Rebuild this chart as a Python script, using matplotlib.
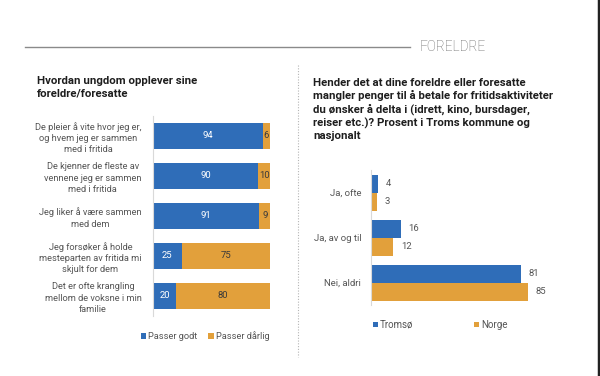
import matplotlib
matplotlib.use("Agg")
import matplotlib.pyplot as plt
from matplotlib.lines import Line2D

plt.rcParams['font.family'] = ['Roboto', 'DejaVu Sans']

# left chart data
statements = [
    "De pleier å vite hvor jeg er,\nog hvem jeg er sammen\nmed i fritida",
    "De kjenner de fleste av\nvennene jeg er sammen\nmed i fritida",
    "Jeg liker å være sammen\nmed dem",
    "Jeg forsøker å holde\nmesteparten av fritida mi\nskjult for dem",
    "Det er ofte krangling\nmellom de voksne i min\nfamilie",
]
passer_godt = [94, 90, 91, 25, 20]
passer_darlig = [6, 10, 9, 75, 80]

# right chart data
answers = ["Ja, ofte", "Ja, av og til", "Nei, aldri"]
tromso = [4, 16, 81]
norge = [3, 12, 85]

BLUE = '#2f6db8'
ORANGE = '#e2a03b'
W, H = 600, 376

fig = plt.figure(figsize=(6, 3.76), dpi=100)

def fx(px):
    return px / W

def fy(py):
    return 1 - py / H

# header
fig.add_artist(Line2D([fx(25), fx(410)], [fy(47), fy(47)], color='#8a8a8a', lw=1))
fig.text(fx(420), fy(47), "FORELDRE", ha='left', va='center', fontsize=9.8,
         color='#636363', fontweight='light')
fig.add_artist(Line2D([fx(598.5), fx(598.5)], [0, 1], color='#222222', lw=2.5))
fig.add_artist(Line2D([fx(298), fx(298)], [fy(65), fy(357)], color='#b5b5b5',
                      lw=0.8, linestyle=(0, (1, 1.5))))

# left chart
fig.text(fx(37), fy(76.5), "Hvordan ungdom opplever sine\nforeldre/foresatte",
         ha='left', va='top', fontsize=8.2, fontweight='bold', color='#1e1e1e',
         linespacing=1.22)

ax1 = fig.add_axes([fx(152.7), fy(316), fx(117.3), 200 / H])
ys = list(range(len(statements)))
b1 = ax1.barh(ys, passer_godt, height=0.65, color=BLUE, label='Passer godt')
b2 = ax1.barh(ys, passer_darlig, left=passer_godt, height=0.65, color=ORANGE,
              label='Passer dårlig')
for i in ys:
    ax1.text(passer_godt[i] / 2, i, str(passer_godt[i]), ha='center', va='center',
             fontsize=6.8, color='white')
    ax1.text(passer_godt[i] + passer_darlig[i] / 2, i, str(passer_darlig[i]),
             ha='center', va='center', fontsize=6.8, color='#3a3a3a')
ax1.set_xlim(0, 100)
ax1.set_ylim(4.5, -0.5)
ax1.set_yticks(ys)
ax1.set_yticklabels(statements, fontsize=6.7, color='#555555',
                    multialignment='center', linespacing=1.3)
ax1.tick_params(axis='y', length=0, pad=8)
ax1.set_xticks([])
for s in ['top', 'right', 'bottom']:
    ax1.spines[s].set_visible(False)
ax1.spines['left'].set_color('#d9d9d9')
ax1.legend(handles=[b1, b2], loc='center', bbox_to_anchor=(fx(205), fy(336)),
           bbox_transform=fig.transFigure, ncol=2, frameon=False, fontsize=6.7,
           handlelength=0.6, handleheight=0.6, handletextpad=0.2,
           columnspacing=1.2, labelcolor='#555555')

# right chart
fig.text(fx(313), fy(78),
         "Hender det at dine foreldre eller foresatte\n"
         "mangler penger til å betale for fritidsaktiviteter\n"
         "du ønsker å delta i (idrett, kino, bursdager,\n"
         "reiser etc.)? Prosent i Troms kommune og\n"
         "nasjonalt",
         ha='left', va='top', fontsize=8.2, fontweight='bold', color='#1e1e1e',
         linespacing=1.25)

ax2 = fig.add_axes([fx(371), fy(305), fx(185), 135 / H])
yr = list(range(len(answers)))
r1 = ax2.barh([y - 0.2 for y in yr], tromso, height=0.4, color=BLUE, label='Tromsø')
r2 = ax2.barh([y + 0.2 for y in yr], norge, height=0.4, color=ORANGE, label='Norge')
for bars, vals in [(r1, tromso), (r2, norge)]:
    for bar, v in zip(bars, vals):
        ax2.annotate(str(v), (v, bar.get_y() + bar.get_height() / 2),
                     xytext=(5.5, 0), textcoords='offset points', ha='left',
                     va='center', fontsize=6.8, color='#555555')
ax2.set_xlim(0, 100)
ax2.set_ylim(2.5, -0.5)
ax2.set_yticks(yr)
ax2.set_yticklabels(answers, fontsize=6.8, color='#555555')
ax2.tick_params(axis='y', length=0, pad=7)
ax2.set_xticks([])
for s in ['top', 'right', 'bottom']:
    ax2.spines[s].set_visible(False)
ax2.spines['left'].set_color('#d9d9d9')
ax2.legend(handles=[r1, r2], loc='center', bbox_to_anchor=(fx(440), fy(325)),
           bbox_transform=fig.transFigure, ncol=2, frameon=False, fontsize=7,
           handlelength=0.55, handleheight=0.55, handletextpad=0.2,
           columnspacing=6.2, labelcolor='#555555')

fig.savefig('out.png', dpi=100, facecolor='white')
